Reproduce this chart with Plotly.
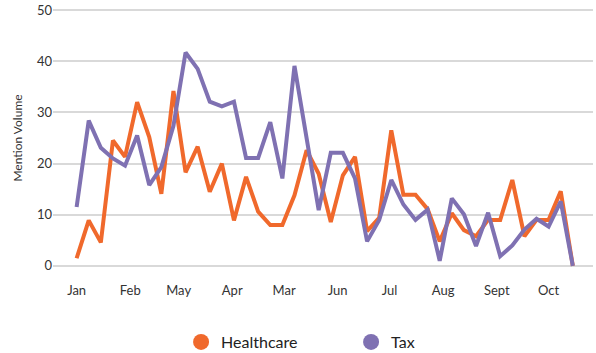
import plotly.graph_objects as go
import pandas as pd

dates = pd.date_range("2019-01-01", periods=42, freq="7D")

healthcare = [1.5, 8.9, 4.6, 24.5, 21.3, 32.0, 25.2, 14.1, 34.2, 18.3,
              23.3, 14.5, 20.0, 8.9, 17.4, 10.6, 8.0, 8.0, 13.8, 22.6,
              18.0, 8.6, 17.7, 21.3, 6.8, 9.4, 26.5, 13.9, 13.9, 11.1,
              4.8, 10.3, 7.0, 5.8, 9.0, 9.0, 16.8, 5.8, 9.0, 9.0,
              14.6, 0.0]
tax = [11.5, 28.4, 23.1, 21.0, 19.6, 25.5, 15.8, 19.3, 27.4, 41.7,
       38.5, 32.1, 31.2, 32.1, 21.1, 21.1, 28.1, 17.1, 39.1, 24.5,
       10.9, 22.1, 22.1, 17.1, 4.8, 9.0, 16.8, 12.0, 9.0, 11.0,
       1.0, 13.2, 10.1, 3.9, 10.4, 1.9, 4.0, 7.1, 9.2, 7.7,
       12.6, 0.0]

tick_dates = ["2019-01-01", "2019-02-01", "2019-03-01", "2019-04-01", "2019-05-01",
              "2019-06-01", "2019-07-01", "2019-08-01", "2019-09-01", "2019-10-01"]
tick_labels = ["Jan", "Feb", "May", "Apr", "Mar", "Jun", "Jul", "Aug", "Sept", "Oct"]

ORANGE = "#F0692C"
PURPLE = "#7F71B2"

fig = go.Figure()
fig.add_trace(go.Scatter(x=dates, y=healthcare, mode="lines", name="Healthcare",
                         line=dict(color=ORANGE, width=4), showlegend=False))
fig.add_trace(go.Scatter(x=dates, y=tax, mode="lines", name="Tax",
                         line=dict(color=PURPLE, width=4), showlegend=False))
fig.add_trace(go.Scatter(x=[None], y=[None], mode="markers", name="Healthcare",
                         marker=dict(color=ORANGE, size=16)))
fig.add_trace(go.Scatter(x=[None], y=[None], mode="markers", name="Tax",
                         marker=dict(color=PURPLE, size=16)))

fig.update_layout(
    width=596, height=353,
    margin=dict(l=53, r=3, t=7, b=84, autoexpand=False),
    paper_bgcolor="white", plot_bgcolor="white",
    font=dict(family="Lato", color="#333333", size=12),
    xaxis=dict(range=["2018-12-18 08:00", "2019-10-26 16:00"],
               tickvals=tick_dates, ticktext=tick_labels,
               showgrid=False, zeroline=False, showline=False,
               ticks="", tickfont=dict(size=13), ticklabelstandoff=12),
    yaxis=dict(range=[-0.6, 50.6], tickvals=[0, 10, 20, 30, 40, 50],
               showgrid=True, gridcolor="#d9d9d9", gridwidth=2,
               zeroline=False, showline=False, ticks="",
               tickfont=dict(size=13),
               title=dict(text="Mention Volume", font=dict(size=12), standoff=11)),
    legend=dict(orientation="h", x=0.552, xanchor="center",
                yref="container", y=0.031, yanchor="middle",
                font=dict(size=16, color="#222222"), entrywidth=125),
    showlegend=True,
)

fig.write_html("out.html")
